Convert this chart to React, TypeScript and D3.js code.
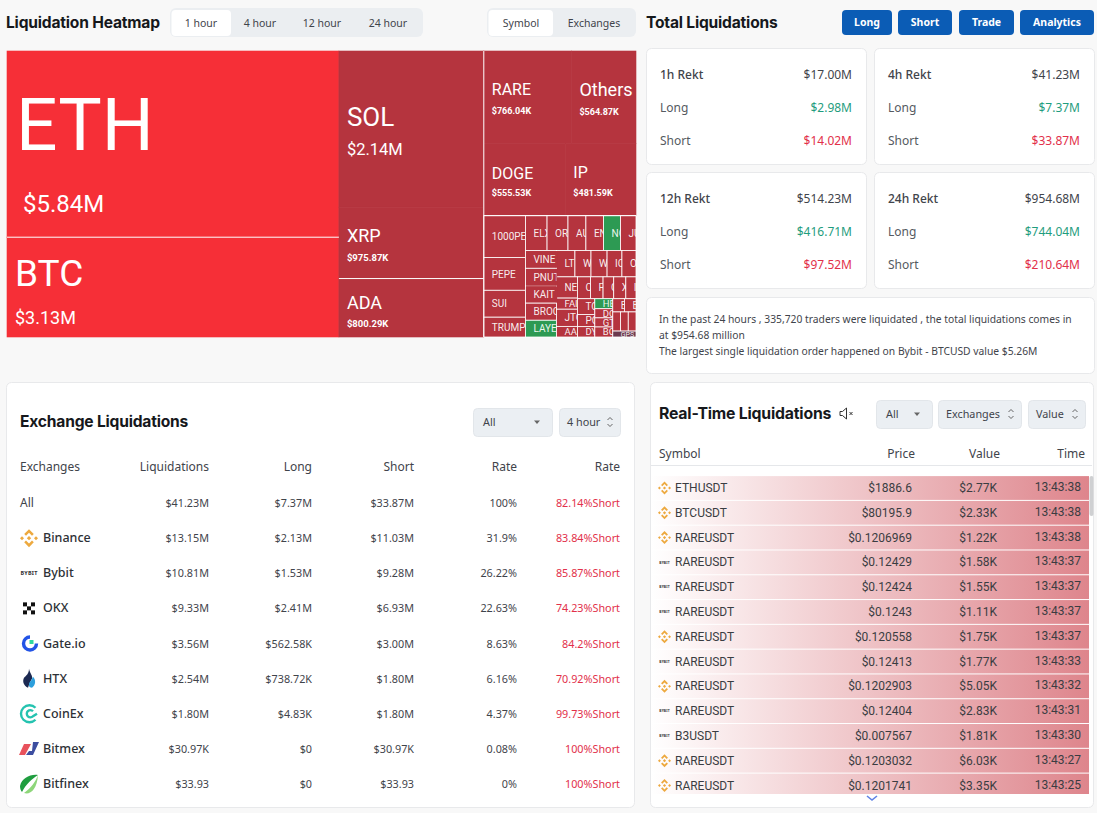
import React from 'react';
import * as d3 from 'd3';

const BODY = "'Noto Sans', sans-serif";
const DIN = "Roboto, sans-serif";
const HEAD = "Inter, sans-serif";
const RED = '#e2304a';
const GREEN = '#1f9d7e';
const INK = '#3f444b';

// heatmap values, $K
const majorNames = ['ETH', 'BTC'];
const majorValues = [5840, 3130];
const midNames = ['SOL', 'XRP', 'ADA'];
const midValues = [2140, 975.87, 800.29];
const upperNames = ['RARE', 'Others'];
const upperValues = [766.04, 564.87];
const lowerNames = ['DOGE', 'IP'];
const lowerValues = [555.53, 481.59];
const memeNames = ['1000PE', 'PEPE', 'SUI', 'TRUMP'];
const memeValues = [165, 129, 106, 78];
const rowANames = ['ELX', 'OR', 'AU', 'EN', 'NO', 'JU'];
const rowAValues = [71, 69, 59, 58, 56, 51];
const colBNames = ['VINE', 'PNUT', 'KAIT', 'BROC', 'LAYE'];
const colBValues = [52, 52, 50, 50, 49];
const rowCNames = ['LT', 'W', 'W', 'IC', 'O'];
const rowCValues = [46, 40, 40, 37, 35];
const colDNames = ['NE', 'FAI', 'JTO', 'AA'];
const colDValues = [42, 22, 34, 21];
const rowENames = ['C', 'F', 'G', 'X', 'I'];
const rowEValues = [27, 26, 22, 25, 21];
const colFNames = ['TO', 'PO', 'DY'];
const colFValues = [26, 20, 17];
const colGNames = ['HE', 'DO', 'GT', 'BO'];
const colGValues = [17, 15.5, 15.5, 17];
const rowHNames = ['E', 'B'];
const rowHValues = [14.5, 14.5];
const rowINames = ['S', 'T', 'A'];
const rowIValues = [14, 14, 14];
const rowJNames = ['GPS'];
const rowJValues = [13];

const brightCoins = ['ETH', 'BTC'];
const greenCoins = ['NO', 'HE', 'LAYE'];
const darkCoins = ['GPS'];
// cells whose edge has no white rule in the picture
const openRight = ['VINE', 'PNUT', 'KAIT'];
const openTop = ['KAIT'];

const tabsLeft = ['1 hour', '4 hour', '12 hour', '24 hour'];
const tabsRight = ['Symbol', 'Exchanges'];
const buttons = ['Long', 'Short', 'Trade', 'Analytics'];

const rektNames = ['1h Rekt', '4h Rekt', '12h Rekt', '24h Rekt'];
const rektTotals = ['$17.00M', '$41.23M', '$514.23M', '$954.68M'];
const rektLongs = ['$2.98M', '$7.37M', '$416.71M', '$744.04M'];
const rektShorts = ['$14.02M', '$33.87M', '$97.52M', '$210.64M'];

const infoLines = [
  'In the past 24 hours , 335,720 traders were liquidated , the total liquidations comes in',
  'at $954.68 million',
  'The largest single liquidation order happened on Bybit - BTCUSD value $5.26M',
];

const exchangeNames = ['All', 'Binance', 'Bybit', 'OKX', 'Gate.io', 'HTX', 'CoinEx', 'Bitmex', 'Bitfinex'];
const exchangeTotals = ['$41.23M', '$13.15M', '$10.81M', '$9.33M', '$3.56M', '$2.54M', '$1.80M', '$30.97K', '$33.93'];
const exchangeLongs = ['$7.37M', '$2.13M', '$1.53M', '$2.41M', '$562.58K', '$738.72K', '$4.83K', '$0', '$0'];
const exchangeShorts = ['$33.87M', '$11.03M', '$9.28M', '$6.93M', '$3.00M', '$1.80M', '$1.80M', '$30.97K', '$33.93'];
const exchangeRates = ['100%', '31.9%', '26.22%', '22.63%', '8.63%', '6.16%', '4.37%', '0.08%', '0%'];
const exchangeSides = ['82.14%Short', '83.84%Short', '85.87%Short', '74.23%Short', '84.2%Short', '70.92%Short', '99.73%Short', '100%Short', '100%Short'];

const liveVenues = ['Binance', 'Binance', 'Binance', 'Bybit', 'Bybit', 'Bybit', 'Binance', 'Bybit', 'Binance', 'Bybit', 'Bybit', 'Binance', 'Binance'];
const liveSymbols = ['ETHUSDT', 'BTCUSDT', 'RAREUSDT', 'RAREUSDT', 'RAREUSDT', 'RAREUSDT', 'RAREUSDT', 'RAREUSDT', 'RAREUSDT', 'RAREUSDT', 'B3USDT', 'RAREUSDT', 'RAREUSDT'];
const livePrices = ['$1886.6', '$80195.9', '$0.1206969', '$0.12429', '$0.12424', '$0.1243', '$0.120558', '$0.12413', '$0.1202903', '$0.12404', '$0.007567', '$0.1203032', '$0.1201741'];
const liveValues = ['$2.77K', '$2.33K', '$1.22K', '$1.58K', '$1.55K', '$1.11K', '$1.75K', '$1.77K', '$5.05K', '$2.83K', '$1.81K', '$6.03K', '$3.35K'];
const liveTimes = ['13:43:38', '13:43:38', '13:43:38', '13:43:37', '13:43:37', '13:43:37', '13:43:37', '13:43:33', '13:43:32', '13:43:31', '13:43:30', '13:43:27', '13:43:25'];

type Node = { name?: string; value?: number; dir?: 'row' | 'col'; children?: Node[] };

const leaves = (names: string[], values: number[]): Node[] => names.map((name, i) => ({ name, value: values[i] }));
const row = (...children: Node[]): Node => ({ dir: 'row', children });
const col = (...children: Node[]): Node => ({ dir: 'col', children });

const tree = row(
  col(...leaves(majorNames, majorValues)),
  col(...leaves(midNames, midValues)),
  col(
    row(...leaves(upperNames, upperValues)),
    row(...leaves(lowerNames, lowerValues)),
    row(
      col(...leaves(memeNames, memeValues)),
      col(
        row(...leaves(rowANames, rowAValues)),
        row(
          col(...leaves(colBNames, colBValues)),
          col(
            row(...leaves(rowCNames, rowCValues)),
            row(
              col(...leaves(colDNames, colDValues)),
              col(
                row(...leaves(rowENames, rowEValues)),
                row(
                  col(...leaves(colFNames, colFValues)),
                  col(...leaves(colGNames, colGValues)),
                  col(
                    row(...leaves(rowHNames, rowHValues)),
                    row(...leaves(rowINames, rowIValues)),
                    row(...leaves(rowJNames, rowJValues)),
                  ),
                ),
              ),
            ),
          ),
        ),
      ),
    ),
  ),
);

// label placement for the big cells, relative to the cell corner
const bigLabels: Record<string, { size: number; vsize: number; dx: number; vdx: number; ny: number; vy: number; bold?: boolean }> = {
  ETH: { size: 73, vsize: 24, dx: 9, vdx: 16, ny: 99, vy: 161 },
  BTC: { size: 37, vsize: 18, dx: 8, vdx: 8, ny: 49, vy: 87 },
  SOL: { size: 26, vsize: 16.5, dx: 8, vdx: 8, ny: 75, vy: 104 },
  XRP: { size: 18, vsize: 9.5, dx: 8, vdx: 8, ny: 35, vy: 54, bold: true },
  ADA: { size: 18, vsize: 9.5, dx: 8, vdx: 8, ny: 30, vy: 48, bold: true },
  RARE: { size: 16, vsize: 9, dx: 8, vdx: 8, ny: 44, vy: 63, bold: true },
  Others: { size: 18, vsize: 9, dx: 8, vdx: 8, ny: 45, vy: 64, bold: true },
  DOGE: { size: 16, vsize: 9, dx: 8, vdx: 8, ny: 35, vy: 52, bold: true },
  IP: { size: 16, vsize: 9, dx: 8, vdx: 8, ny: 34, vy: 52, bold: true },
};

const money = (k: number) => (k >= 1000 ? `$${(k / 1000).toFixed(2)}M` : `$${k.toFixed(2)}K`);

function Heatmap({ x, y, width, height }: { x: number; y: number; width: number; height: number }) {
  const root = d3.hierarchy<Node>(tree).sum((d) => d.value || 0);
  d3.treemap<Node>()
    .size([width, height])
    .tile((node: any, x0, y0, x1, y1) =>
      (node.data.dir === 'row' ? d3.treemapDice : d3.treemapSlice)(node, x0, y0, x1, y1))(root);
  const cells = root.leaves() as any[];
  const fill = (n: string) =>
    brightCoins.includes(n) ? '#f62f37' : greenCoins.includes(n) ? '#2d9a53' : darkCoins.includes(n) ? '#6b3a4e' : '#b5343e';
  const tailRoot = (root.children as any[])[2];
  const tailX = tailRoot.x0;
  const tailY = (tailRoot.children as any[])[2].y0;
  const btc = cells.find((c) => c.data.name === 'BTC');
  const ada = cells.find((c) => c.data.name === 'ADA');
  return (
    <g transform={`translate(${x},${y})`}>
      <defs>
        {cells.map((c, i) => (
          <clipPath id={`cell-${i}`} key={i}>
            <rect x={c.x0} y={c.y0} width={c.x1 - c.x0} height={c.y1 - c.y0} />
          </clipPath>
        ))}
      </defs>
      {cells.map((c, i) => {
        const small = c.y0 >= tailY - 0.01 && c.x0 >= tailX - 0.01;
        const color = fill(c.data.name);
        return (
          <rect key={i} x={c.x0} y={c.y0} width={c.x1 - c.x0} height={c.y1 - c.y0}
            fill={color} stroke={small ? '#fff' : color} strokeWidth={small ? 0.8 : 0.6} />
        );
      })}
      {cells.filter((c) => openRight.includes(c.data.name)).map((c) => (
        <line key={c.data.name} x1={c.x1} x2={c.x1} y1={c.y0 + 0.5} y2={c.y1 - 0.5} stroke={fill(c.data.name)} strokeWidth={1.4} />
      ))}
      {cells.filter((c) => openTop.includes(c.data.name)).map((c) => (
        <line key={c.data.name} x1={c.x0 + 0.5} x2={c.x1} y1={c.y0} y2={c.y0} stroke={fill(c.data.name)} strokeWidth={1.4} />
      ))}
      <line x1={btc.x0} x2={btc.x1} y1={btc.y0} y2={btc.y0} stroke="#fff" strokeWidth={1} />
      <line x1={ada.x0} x2={ada.x1} y1={ada.y0} y2={ada.y0} stroke="#fff" strokeWidth={1} />
      <line x1={tailX} x2={tailX} y1={0} y2={height} stroke="#fff" strokeWidth={1} />
      <line x1={tailX} x2={width} y1={tailY} y2={tailY} stroke="#fff" strokeWidth={1} />
      {cells.map((c, i) => {
        const name = c.data.name as string;
        const big = bigLabels[name];
        if (big) {
          return (
            <g key={i} clipPath={`url(#cell-${i})`} fontFamily={DIN} fill="#fff">
              <text x={c.x0 + big.dx} y={c.y0 + big.ny} fontSize={big.size}>{name}</text>
              <text x={c.x0 + big.vdx} y={c.y0 + big.vy} fontSize={big.vsize} fontWeight={big.bold ? 700 : 400}>
                {money(c.data.value)}
              </text>
            </g>
          );
        }
        const size = darkCoins.includes(name) ? 7 : c.y1 - c.y0 < 12 ? 9.5 : 10;
        return (
          <text key={i} clipPath={`url(#cell-${i})`} x={c.x0 + 8} y={(c.y0 + c.y1) / 2 + size * 0.36}
            fontFamily={DIN} fontSize={size} fontWeight={400} fill="#fff" fillOpacity={0.92}>
            {name}
          </text>
        );
      })}
    </g>
  );
}

function Card({ x, y, w, h }: { x: number; y: number; w: number; h: number }) {
  return <rect x={x + 0.5} y={y + 0.5} width={w} height={h} rx={5} fill="#fff" stroke="#e8e9eb" />;
}

function Select({ x, y, w, label, kind }: { x: number; y: number; w: number; label: string; kind: 'down' | 'updown' }) {
  const ax = x + w - (kind === 'down' ? 15 : 10);
  const my = y + 14;
  return (
    <g>
      <rect x={x + 0.5} y={y + 0.5} width={w} height={28} rx={4} fill="#ebeff3" stroke="#e2e6ea" />
      <text x={x + (kind === 'down' ? 10 : 8)} y={my + 4} fontFamily={BODY} fontSize={10.8} fill={INK}>{label}</text>
      {kind === 'down' ? (
        <path d={`M${ax - 3},${my - 1.5}h6l-3,3.5z`} fill="#666" />
      ) : (
        <path d={`M${ax - 2.5},${my - 2}l2.5,-2.5l2.5,2.5M${ax - 2.5},${my + 2}l2.5,2.5l2.5,-2.5`} fill="none" stroke="#555" strokeWidth={0.9} />
      )}
    </g>
  );
}

function Logo({ name, cx, cy, r }: { name: string; cx: number; cy: number; r: number }) {
  const t = `translate(${cx},${cy}) scale(${r / 9})`;
  if (name === 'Binance') {
    return (
      <g transform={t} fill="#eda93f">
        <path d="M0,-9L4.8,-4.2L3,-2.4L0,-5.4L-3,-2.4L-4.8,-4.2Z" />
        <path d="M0,9L4.8,4.2L3,2.4L0,5.4L-3,2.4L-4.8,4.2Z" />
        <path d="M-9,0L-7,-2L-5,0L-7,2Z" />
        <path d="M9,0L7,-2L5,0L7,2Z" />
        <path d="M0,-2.2L2.2,0L0,2.2L-2.2,0Z" />
      </g>
    );
  }
  if (name === 'Bybit') {
    return (
      <g transform={t}>
        <text x={0} y={2} textAnchor="middle" fontFamily={BODY} fontSize={5.5} fontWeight={700} fill="#333" letterSpacing={0.2}>BYBIT</text>
      </g>
    );
  }
  if (name === 'OKX') {
    return (
      <g transform={t} fill="#111">
        {[[-6, -6], [2, -6], [-2, -2], [-6, 2], [2, 2]].map(([a, b], i) => (
          <rect key={i} x={a} y={b} width={4} height={4} />
        ))}
      </g>
    );
  }
  if (name === 'Gate.io') {
    return (
      <g transform={t}>
        <path d="M1,-6.5A6.5,6.5,0,1,0,7.5,0" fill="none" stroke="#2354e6" strokeWidth={3.4} />
        <rect x={0.5} y={-3.5} width={4} height={4} fill="#2fd8a0" />
      </g>
    );
  }
  if (name === 'HTX') {
    return (
      <g transform={t}>
        <path d="M0,-10C1,-5,4,-3,3,0C1,3,0,6,-1,9C-5,7,-7,3,-5,-1C-3,-3,0,-5,0,-10Z" fill="#1c2a52" />
        <path d="M4,-2C7,1,7,6,3,9C0,9,-1,6,1,3C3,1,3,0,4,-2Z" fill="#2d9fdc" />
      </g>
    );
  }
  if (name === 'CoinEx') {
    return (
      <g transform={t} fill="none" stroke="#25c3b0" strokeWidth={2.4}>
        <path d="M6.5,-6A8.5,8.5,0,1,0,6.5,6" />
        <path d="M4,-2.5A3.6,3.6,0,1,0,4,2.5L8,0" />
      </g>
    );
  }
  if (name === 'Bitmex') {
    return (
      <g transform={t}>
        <path d="M-5,-5H2L-4,6H-10Z" fill="#e8525c" />
        <path d="M4,-7H10L4,6H-3L0,2H3Z" fill="#3d4ea0" />
      </g>
    );
  }
  if (name === 'Bitfinex') {
    return (
      <g transform={t}>
        <path d="M9,-9C1,-10,-7,-6,-9,2C-9,5,-8,7,-7,8C-3,0,3,-5,9,-9Z" fill="#1f9d3f" />
        <path d="M9,-9C7,-3,2,4,-5,9C1,11,8,6,9,-9Z" fill="#8ed67a" />
      </g>
    );
  }
  return null;
}

function App() {
  const tabX = d3.scaleOrdinal<string, number>().domain(tabsLeft).range([201, 260, 322, 388]);
  const excY = d3.scalePoint<number>().domain(d3.range(exchangeNames.length)).range([503, 784]);
  const liveY = d3.scalePoint<number>().domain(d3.range(liveSymbols.length)).range([488, 785.5]);
  const liveRow = 24.8;

  return (
    <svg width={1097} height={813} style={{ position: 'absolute', left: 0, top: 0 }} fontFamily={BODY}>
      <defs>
        <linearGradient id="liveFill" x1="0" x2="1" y1="0" y2="0">
          <stop offset="0%" stopColor="#ffffff" />
          <stop offset="100%" stopColor="#de858c" />
        </linearGradient>
        <clipPath id="liveClip">
          <rect x={651} y={474} width={438} height={320} />
        </clipPath>
      </defs>
      <rect width={1097} height={813} fill="#f8f8f8" />

      <text x={6} y={28} fontFamily={HEAD} fontSize={15.6} fontWeight={700} fill="#16181c" letterSpacing={-0.2}>Liquidation Heatmap</text>
      <rect x={170} y={8} width={253} height={29} rx={6} fill="#ebeef1" />
      <rect x={171.5} y={10} width={59.5} height={26} rx={4} fill="#fff" />
      {tabsLeft.map((t) => (
        <text key={t} x={tabX(t)} y={27} textAnchor="middle" fontSize={10.5} fill={INK}>{t}</text>
      ))}
      <rect x={487} y={8} width={149} height={29} rx={6} fill="#ebeef1" />
      <rect x={488.5} y={10} width={64.5} height={26} rx={4} fill="#fff" />
      <text x={521} y={27} textAnchor="middle" fontSize={10.5} fill={INK}>{tabsRight[0]}</text>
      <text x={594} y={27} textAnchor="middle" fontSize={10.5} fill={INK}>{tabsRight[1]}</text>

      <Heatmap x={7} y={51} width={629} height={286} />

      <text x={646} y={28} fontFamily={HEAD} fontSize={15.6} fontWeight={700} fill="#16181c" letterSpacing={-0.2}>Total Liquidations</text>
      {buttons.map((b, i) => {
        const bx = [842, 898, 959, 1020][i];
        const bw = [50, 54, 55, 74][i];
        return (
          <g key={b}>
            <rect x={bx} y={10} width={bw} height={25} rx={4} fill="#0b5cb5" />
            <text x={bx + bw / 2} y={26} textAnchor="middle" fontSize={10.5} fontWeight={700} fill="#fff">{b}</text>
          </g>
        );
      })}

      {rektNames.map((n, i) => {
        const x = i % 2 === 0 ? 646 : 874;
        const y = i < 2 ? 48 : 172;
        return (
          <g key={n}>
            <Card x={x} y={y} w={220} h={116} />
            <text x={x + 14} y={y + 31} fontSize={12} fontWeight={500} fill={INK}>{n}</text>
            <text x={x + 206} y={y + 31} textAnchor="end" fontSize={12} fill={INK}>{rektTotals[i]}</text>
            <text x={x + 14} y={y + 64} fontSize={12} fill="#555a61">Long</text>
            <text x={x + 206} y={y + 64} textAnchor="end" fontSize={12} fill={GREEN}>{rektLongs[i]}</text>
            <text x={x + 14} y={y + 97} fontSize={12} fill="#555a61">Short</text>
            <text x={x + 206} y={y + 97} textAnchor="end" fontSize={12} fill={RED}>{rektShorts[i]}</text>
          </g>
        );
      })}

      <Card x={646} y={297} w={448} h={76} />
      {infoLines.map((l, i) => (
        <text key={i} x={659} y={323 + i * 16} fontSize={10.3} fill={INK}>{l}</text>
      ))}

      {/* exchange table */}
      <Card x={6} y={382} w={628} h={425} />
      <text x={20} y={427} fontFamily={HEAD} fontSize={15.6} fontWeight={700} fill="#16181c" letterSpacing={-0.2}>Exchange Liquidations</text>
      <Select x={473} y={408} w={79} label="All" kind="down" />
      <Select x={559} y={408} w={61} label="4 hour" kind="updown" />
      <g fontSize={12} fill={INK}>
        <text x={20} y={471}>Exchanges</text>
        <text x={209} y={471} textAnchor="end">Liquidations</text>
        <text x={312} y={471} textAnchor="end">Long</text>
        <text x={414} y={471} textAnchor="end">Short</text>
        <text x={517} y={471} textAnchor="end">Rate</text>
        <text x={620} y={471} textAnchor="end">Rate</text>
      </g>
      {exchangeNames.map((n, i) => {
        const y = excY(i) as number;
        return (
          <g key={n} fontSize={10.8} fill={INK}>
            {i === 0 ? (
              <text x={20} y={y + 4} fontSize={12}>{n}</text>
            ) : (
              <>
                <Logo name={n} cx={29} cy={y} r={9} />
                <text x={43} y={y + 4} fontSize={12.5} fontWeight={500} fill="#2d3136">{n}</text>
              </>
            )}
            <text x={209} y={y + 4} textAnchor="end">{exchangeTotals[i]}</text>
            <text x={312} y={y + 4} textAnchor="end">{exchangeLongs[i]}</text>
            <text x={414} y={y + 4} textAnchor="end">{exchangeShorts[i]}</text>
            <text x={517} y={y + 4} textAnchor="end">{exchangeRates[i]}</text>
            <text x={620} y={y + 4} textAnchor="end" fill={RED}>{exchangeSides[i]}</text>
          </g>
        );
      })}

      {/* live table */}
      <Card x={650} y={382} w={443} h={425} />
      <text x={659} y={419} fontFamily={HEAD} fontSize={15.8} fontWeight={700} fill="#16181c" letterSpacing={-0.2}>Real-Time Liquidations</text>
      <g fill="none" stroke="#333" strokeWidth={1}>
        <path d="M840,411.5h2.5l4,-3.5v11l-4,-3.5h-2.5z" />
        <path d="M849.5,412l3,3M852.5,412l-3,3" />
      </g>
      <Select x={876} y={400} w={56} label="All" kind="down" />
      <Select x={938} y={400} w={83} label="Exchanges" kind="updown" />
      <Select x={1028} y={400} w={57} label="Value" kind="updown" />
      <g fontSize={12} fill={INK}>
        <text x={659} y={458}>Symbol</text>
        <text x={915} y={458} textAnchor="end">Price</text>
        <text x={1000} y={458} textAnchor="end">Value</text>
        <text x={1085} y={458} textAnchor="end">Time</text>
      </g>
      <line x1={651} x2={1092} y1={465.5} y2={465.5} stroke="#e5e7ea" />
      <g clipPath="url(#liveClip)">
        {liveSymbols.map((s, i) => {
          const y = liveY(i) as number;
          return (
            <g key={i} fontFamily={DIN} fontSize={12} fill="#3a3d42">
              <rect x={651} y={y - liveRow / 2 + 0.5} width={438} height={liveRow - 1} fill="url(#liveFill)" />
              <Logo name={liveVenues[i]} cx={664.5} cy={y} r={liveVenues[i] === 'Bybit' ? 5.5 : 6.5} />
              <text x={675} y={y + 4}>{s}</text>
              <text x={912} y={y + 4} textAnchor="end">{livePrices[i]}</text>
              <text x={997} y={y + 4} textAnchor="end">{liveValues[i]}</text>
              <text x={1081} y={y + 3} textAnchor="end">{liveTimes[i]}</text>
            </g>
          );
        })}
      </g>
      <rect x={1089.5} y={476} width={4} height={40} rx={2} fill="#cfd0d2" />
      <path d="M867,796l5,4l5,-4" fill="none" stroke="#5f82e6" strokeWidth={1.6} />
    </svg>
  );
}

export default App;
